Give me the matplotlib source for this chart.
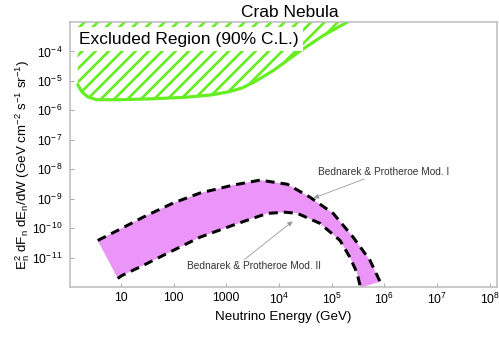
import numpy as np
import matplotlib
matplotlib.use('Agg')
import matplotlib.pyplot as plt

# values (log10 of energy in GeV, log10 of flux)
limit_logE = [0.18, 0.26, 0.37, 0.54, 0.98, 1.55, 2.20, 2.70, 3.05, 3.30, 3.55, 3.90, 4.43, 4.85, 5.32]
limit_logF = [-5.13, -5.37, -5.54, -5.64, -5.64, -5.61, -5.56, -5.48, -5.37, -5.24, -5.02, -4.64, -3.95, -3.45, -2.98]

mod1_logE = [0.56, 0.98, 1.42, 1.99, 2.50, 3.13, 3.64, 4.16, 4.59, 5.03, 5.41, 5.73, 5.92]
mod1_logF = [-10.42, -10.04, -9.63, -9.15, -8.81, -8.54, -8.37, -8.51, -8.95, -9.50, -10.31, -11.10, -11.82]

mod2_logE = [0.94, 1.02, 1.42, 1.99, 2.50, 3.13, 3.45, 3.78, 4.12, 4.35, 4.78, 5.16, 5.35, 5.48, 5.55]
mod2_logF = [-11.71, -11.61, -11.27, -10.76, -10.31, -9.90, -9.70, -9.50, -9.46, -9.50, -9.84, -10.42, -11.00, -11.51, -12.02]

x_ticks = [10, 100, 1000, 1e4, 1e5, 1e6, 1e7, 1e8]
x_ticklabels = ['10', '100', '1000'] + [r'$\mathregular{10^{%d}}$' % p for p in range(4, 9)]
y_ticks = [10.0 ** p for p in range(-11, -3)]
y_ticklabels = [r'$\mathregular{10^{-\,%d}}$' % -p for p in range(-11, -3)]

plt.rcParams['font.family'] = ['Liberation Sans', 'DejaVu Sans']
plt.rcParams['hatch.linewidth'] = 1.6

GREEN = '#66EE22'
PINK = '#EA95F7'

fig = plt.figure(figsize=(499 / 120, 362 / 120), dpi=120)
ax = fig.add_axes([0.1403, 0.2072, 0.8557, 0.732])

# excluded region (hatched) above the limit curve
le = 10.0 ** np.array(limit_logE)
lf = 10.0 ** np.array(limit_logF)
ax.fill_between(le, lf, 1e-3, facecolor='none', edgecolor=GREEN, hatch='///', linewidth=0)
ax.plot(le, lf, color=GREEN, lw=1.9, solid_capstyle='round')

# model band between Mod. I and Mod. II
e1 = 10.0 ** np.array(mod1_logE)
f1 = 10.0 ** np.array(mod1_logF)
e2 = 10.0 ** np.array(mod2_logE)
f2 = 10.0 ** np.array(mod2_logF)
ax.fill(np.concatenate([e1, e2[::-1]]), np.concatenate([f1, f2[::-1]]),
        color=PINK, lw=0)
ax.plot(e1, f1, color='black', lw=1.8, dashes=(3, 2))
ax.plot(e2, f2, color='black', lw=1.8, dashes=(3, 2))

ax.set_xscale('log')
ax.set_yscale('log')
ax.set_xlim(10 ** 0.034, 10 ** 8.14)
ax.set_ylim(1e-12, 1e-3)
ax.set_xticks(x_ticks)
ax.set_xticklabels(x_ticklabels)
ax.set_yticks(y_ticks)
ax.set_yticklabels(y_ticklabels)
ax.minorticks_off()
ax.tick_params(direction='in', length=2.5, width=0.6, color='#aaaaaa',
               labelsize=7.3, pad=3)
ax.tick_params(axis='y', pad=4)
for s in ax.spines.values():
    s.set_color('#bbbbbb')
    s.set_linewidth(0.9)

ax.set_title('Crab Nebula', fontsize=10.4, pad=3, x=0.515)
ax.set_xlabel('Neutrino Energy (GeV)', fontsize=8, labelpad=2)
ax.set_ylabel(r'E$\mathregular{_n^2}$ dF$\mathregular{_n}$ dE$\mathregular{_n}$/dW '
              r'(GeV cm$\mathregular{^{-2}}$ s$\mathregular{^{-1}}$ sr$\mathregular{^{-1}}$)',
              fontsize=8)
ax.yaxis.set_label_coords(-0.09, 0.46)

ax.text(10 ** 0.21, 10 ** -3.58, 'Excluded Region (90% C.L.)', fontsize=10.4,
        va='center', ha='left',
        bbox=dict(facecolor='white', edgecolor='none', pad=2.5))

ax.text(10 ** 4.75, 10 ** -8.10, 'Bednarek & Protheroe Mod. I', fontsize=6.1,
        color='#333333', va='center', ha='left')
ax.annotate('', xy=(10 ** 4.66, 10 ** -8.98), xytext=(10 ** 5.62, 10 ** -8.33),
            arrowprops=dict(arrowstyle='-|>', color='#999999', lw=0.5,
                            mutation_scale=6, shrinkA=0, shrinkB=0))
ax.text(10 ** 2.25, 10 ** -11.30, 'Bednarek & Protheroe Mod. II', fontsize=6.1,
        color='#333333', va='center', ha='left')
ax.annotate('', xy=(10 ** 4.26, 10 ** -9.77), xytext=(10 ** 3.35, 10 ** -11.06),
            arrowprops=dict(arrowstyle='-|>', color='#999999', lw=0.5,
                            mutation_scale=6, shrinkA=0, shrinkB=0))

fig.savefig('out.png', dpi=120)
